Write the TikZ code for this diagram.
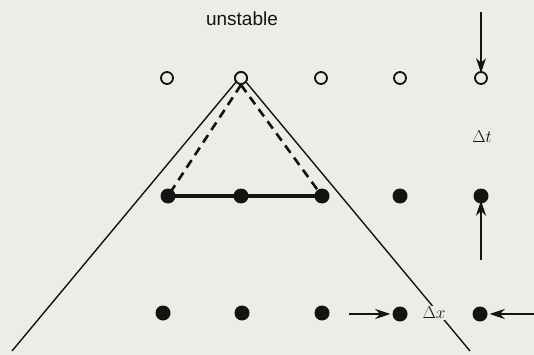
\documentclass[tikz,border=0pt]{standalone}
\usepackage{fontspec}
\newfontfamily\labfont{Liberation Sans}
\usetikzlibrary{arrows.meta}
\definecolor{paper}{HTML}{EDECE6}
\definecolor{ink}{HTML}{151212}
\begin{document}
\begin{tikzpicture}[x=1pt,y=-1pt,
  opendot/.style={circle,draw=ink,line width=1.8pt,fill=paper,minimum size=12pt,inner sep=0pt},
  fulldot/.style={circle,fill=ink,minimum size=15pt,inner sep=0pt},
  bigline/.style={draw=ink,line width=1.4pt},
  dashline/.style={draw=ink,line width=2.6pt,dash pattern=on 9pt off 6pt},
  solidline/.style={draw=ink,line width=3.2pt},
  arr/.style={draw=ink,line width=1.8pt,-{Stealth[length=15pt,width=10pt]}},
  lab/.style={text=ink,inner sep=1pt}]
\fill[paper] (0,0) rectangle (534,355);
\useasboundingbox (0,0) rectangle (534,355);
% big triangle
\coordinate (L) at (12,351);
\coordinate (R) at (470,351);
\coordinate (A) at (241,76);
\draw[bigline] (L) -- (A) -- (R);
% top row
\node[opendot] (t1) at (167,78) {};
\node[opendot] (t2) at (241,78) {};
\node[opendot] (t3) at (321,78) {};
\node[opendot] (t4) at (400,78) {};
\node[opendot] (t5) at (481,78) {};
% middle row
\node[fulldot] (m1) at (168,196) {};
\node[fulldot] (m2) at (241,196) {};
\node[fulldot] (m3) at (322,196) {};
\node[fulldot] (m4) at (400,196) {};
\node[fulldot] (m5) at (481,196) {};
% bottom row
\node[fulldot] (b1) at (163,313) {};
\node[fulldot] (b2) at (242,313) {};
\node[fulldot] (b3) at (322,313) {};
\node[fulldot] (b4) at (400,314) {};
\node[fulldot] (b5) at (480,314) {};
% dashed and solid lines
\draw[dashline] (t2.south) -- (m1.center);
\draw[dashline] (t2.south) -- (m3.center);
\draw[solidline] (m1.center) -- (m3.center);
\node[opendot] at (t2) {};
% labels
\node[lab,font=\labfont\fontsize{19}{22}\selectfont] (u) at (242,19) {unstable};
\node[lab,font=\fontsize{17}{19}\selectfont] (dt) at (482,137) {$\Delta t$};
\node[lab,fill=paper,font=\fontsize{17}{19}\selectfont] (dx) at (434,313) {$\Delta x$};
% arrows
\coordinate (ta) at (481,12);
\draw[arr] (ta) -- ([yshift=-2pt]t5.north);
\coordinate (ma) at (481,260);
\draw[arr] (ma) -- ([yshift=3pt]m5.south);
\coordinate (ba) at (349,314);
\draw[arr] (ba) -- ([xshift=-2pt]b4.west);
\coordinate (bb) at (534,314);
\draw[arr] (bb) -- ([xshift=2pt]b5.east);
\end{tikzpicture}
\end{document}
